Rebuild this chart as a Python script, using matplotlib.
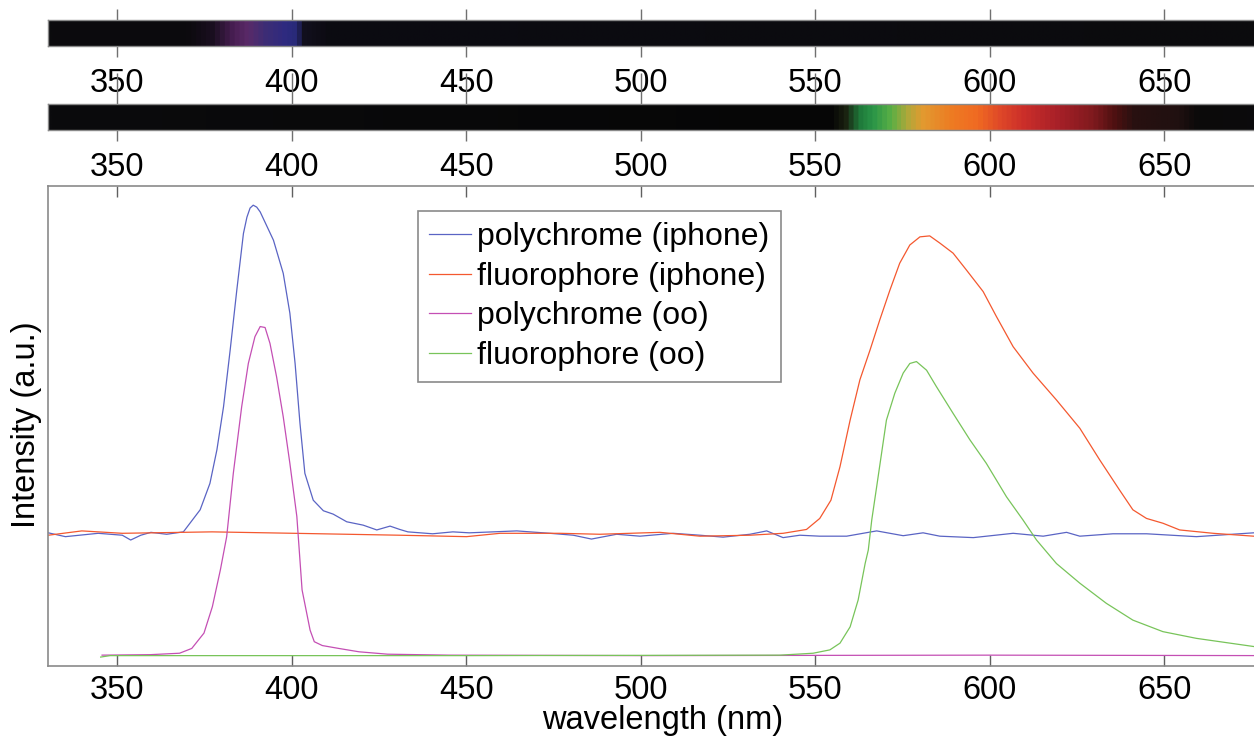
import numpy as np
import matplotlib
matplotlib.use("Agg")
import matplotlib.pyplot as plt
from matplotlib.colors import LinearSegmentedColormap

plt.rcParams['font.family'] = ['Liberation Sans', 'DejaVu Sans']

# === DADOS ===
wl_poly_iphone = [330.3, 335.2, 344.6, 351.5, 353.9, 356.8, 359.7, 364.2, 369.0, 373.8,
                  376.6, 378.6, 380.5, 382.4, 384.3, 386.2, 387.2, 388.1, 389.0, 390.0,
                  391.0, 394.8,
                  397.6, 399.5, 401.0, 402.4, 403.8, 406.2, 409.1, 411.9, 415.8, 420.5,
                  424.4, 428.2, 431.0, 433.3, 440.4, 446.2, 450.9, 464.5, 474.0, 480.7,
                  485.9, 493.1, 499.8, 509.3, 517.0, 523.6, 531.3, 536.1, 540.8, 545.6,
                  551.3, 559.0, 567.6, 575.2, 580.9, 585.7, 595.3, 606.7, 615.3, 622.0,
                  625.8, 635.3, 644.9, 659.2, 675.6, 682.0]
int_poly_iphone = [0.277, 0.269, 0.276, 0.272, 0.262, 0.272, 0.278, 0.274, 0.279, 0.325,
                   0.380, 0.450, 0.540, 0.658, 0.783, 0.901, 0.935, 0.954, 0.960, 0.956,
                   0.946, 0.887,
                   0.818, 0.735, 0.630, 0.505, 0.401, 0.345, 0.323, 0.316, 0.300, 0.293,
                   0.283, 0.291, 0.284, 0.279, 0.275, 0.279, 0.277, 0.281, 0.276, 0.272,
                   0.264, 0.274, 0.270, 0.276, 0.272, 0.268, 0.274, 0.281, 0.267, 0.272,
                   0.270, 0.270, 0.281, 0.271, 0.277, 0.270, 0.267, 0.276, 0.270, 0.278,
                   0.270, 0.275, 0.275, 0.269, 0.277, 0.274]

wl_fluo_iphone = [330.3, 339.9, 351.5, 377.2, 400.7, 431.0, 450.1, 459.7, 476.9, 488.3,
                  505.5, 517.0, 531.3, 540.8, 547.5, 551.3, 554.5, 557.1, 560.0, 562.8,
                  565.7, 568.5, 571.4, 574.2, 577.1, 580.0, 582.8, 585.7, 589.5, 593.3,
                  598.1, 601.9, 606.7, 612.4, 619.1, 625.8, 631.5, 637.2, 641.0, 644.9,
                  649.6, 654.4, 664.0, 675.6, 682.0]
int_fluo_iphone = [0.272, 0.281, 0.276, 0.279, 0.276, 0.272, 0.269, 0.276, 0.276, 0.274,
                   0.278, 0.270, 0.272, 0.276, 0.284, 0.307, 0.345, 0.415, 0.512, 0.596,
                   0.658, 0.721, 0.783, 0.839, 0.877, 0.894, 0.896, 0.881, 0.860, 0.825,
                   0.780, 0.728, 0.665, 0.610, 0.554, 0.495, 0.429, 0.366, 0.325, 0.307,
                   0.297, 0.283, 0.276, 0.270, 0.270]

wl_poly_oo = [345.7, 359.5, 367.9, 371.4, 374.9, 377.3, 379.6, 381.4, 383.3, 385.7,
              387.6, 389.5, 391.0, 392.4, 393.8, 395.7, 397.6, 399.5, 401.5, 403.0,
              405.3, 406.5, 408.8, 413.5, 419.3, 427.5, 445.1, 500.0, 600.0, 682.0]
int_poly_oo = [0.022, 0.023, 0.026, 0.036, 0.068, 0.123, 0.200, 0.269, 0.401, 0.540,
               0.630, 0.686, 0.707, 0.705, 0.672, 0.602, 0.519, 0.422, 0.311, 0.158,
               0.074, 0.050, 0.042, 0.036, 0.029, 0.024, 0.022, 0.021, 0.022, 0.021]

wl_fluo_oo = [345.3, 348.0, 450.0, 539.9, 549.4, 554.2, 557.1, 560.0, 562.3, 564.3,
              565.2, 566.2, 567.6, 570.4, 572.8, 575.2, 577.1, 579.0, 581.9, 584.7,
              589.5, 594.3, 599.0, 604.8, 609.5, 613.4, 619.1, 625.8, 633.4, 641.0,
              649.6, 659.2, 675.6, 682.0]
int_fluo_oo = [0.018, 0.021, 0.021, 0.022, 0.026, 0.033, 0.047, 0.081, 0.137, 0.213,
               0.241, 0.304, 0.373, 0.512, 0.568, 0.610, 0.630, 0.634, 0.616, 0.582,
               0.526, 0.471, 0.422, 0.352, 0.304, 0.262, 0.213, 0.172, 0.130, 0.095,
               0.071, 0.057, 0.040, 0.036]

legend_labels = ["polychrome (iphone)", "fluorophore (iphone)",
                 "polychrome (oo)", "fluorophore (oo)"]
cores = ['#5a64c4', '#f4582f', '#c44fb4', '#78c45a']

# cores das faixas (imagem do espectro)
faixa1_wl = [330, 370, 377, 383, 387, 392, 398, 401, 403, 410, 682]
faixa1_cor = ['#0b0b0d', '#0c0a0e', '#1a0f20', '#4a1f55', '#5a2a68', '#3d2d75',
              '#2e2a80', '#282a78', '#12101e', '#0c0b12', '#0b0b0d']
faixa2_wl = [330, 555, 559, 563, 567, 572, 577, 581, 590, 597, 603, 610, 620, 630,
             637, 642, 655, 660, 682]
faixa2_cor = ['#0b0b0d', '#060606', '#1a2010', '#1f7a3a', '#2a9548', '#5aaf45',
              '#b0a83a', '#e29a30', '#ee7a22', '#f06a22', '#e04a28', '#cc2f2a',
              '#a82028', '#801a1e', '#4a1010', '#281010', '#201010', '#0c0a0a', '#0b0b0d']

ticks = [350, 400, 450, 500, 550, 600, 650]
xmin, xmax = 330.3, 682.0
fs = 23.5

# === FIGURA ===
W, H = 1254, 737
fig = plt.figure(figsize=(W / 100, H / 100), dpi=100)

left = 48.3 / W
largura = (1276 - 48.3) / W
cinza = '#8a8a8a'


def faixa(y_top, wl, cores_f, top_len):
    ax = fig.add_axes([left, 1 - (y_top + 26) / H, largura, 26 / H])
    lo, hi = wl[0], wl[-1]
    cmap = LinearSegmentedColormap.from_list(
        'f', [((w - lo) / (hi - lo), c) for w, c in zip(wl, cores_f)])
    x = np.linspace(xmin, xmax, 1500)
    ax.imshow(((x - lo) / (hi - lo))[None, :], cmap=cmap, aspect='auto',
              extent=[xmin, xmax, 0, 1], vmin=0, vmax=1)
    ax.set_xlim(xmin, xmax)
    ax.set_ylim(0, 1)
    ax.set_yticks([])
    ax.set_xticks(ticks)
    ax.tick_params(axis='x', direction='out', length=8, width=1, color='#707070',
                   labelsize=fs, pad=8, top=True)
    for t in ax.xaxis.get_major_ticks():
        t.tick2line.set_markersize(top_len)
    for s in ax.spines.values():
        s.set_color(cinza)
        s.set_linewidth(1)
    return ax


faixa(20, faixa1_wl, faixa1_cor, 8)
faixa(104, faixa2_wl, faixa2_cor, 22)

# --- gráfico principal ---
ax = fig.add_axes([left, 1 - 665.7 / H, largura, (665.7 - 186) / H])
l1, = ax.plot(wl_poly_iphone, int_poly_iphone, color=cores[0], lw=0.9)
l2, = ax.plot(wl_fluo_iphone, int_fluo_iphone, color=cores[1], lw=0.9)
l3, = ax.plot(wl_poly_oo, int_poly_oo, color=cores[2], lw=0.9)
l4, = ax.plot(wl_fluo_oo, int_fluo_oo, color=cores[3], lw=0.9)
ax.set_xlim(xmin, xmax)
ax.set_ylim(0, 1)
ax.set_yticks([])
ax.set_xticks(ticks)
ax.tick_params(axis='x', direction='in', length=8, width=1, color='#606060',
               labelsize=fs, pad=7, top=True)
for s in ax.spines.values():
    s.set_color(cinza)
    s.set_linewidth(1.2)
ax.set_xlabel("wavelength (nm)", fontsize=fs, labelpad=-1)

fig.text(27 / W, 1 - 425 / H, "Intensity (a.u.)", fontsize=fs, rotation=90,
         ha='center', va='center')

leg = fig.legend([l1, l2, l3, l4], legend_labels, loc='upper left',
                 bbox_to_anchor=(418 / W, 1 - 211 / H), bbox_transform=fig.transFigure,
                 fontsize=23, frameon=True, fancybox=False, framealpha=1,
                 handlelength=1.3, handletextpad=0.2, labelspacing=0.3,
                 borderpad=0.35, borderaxespad=0)
leg.get_frame().set_edgecolor(cinza)
leg.get_frame().set_linewidth(1.2)

fig.savefig("out.png", dpi=100)
